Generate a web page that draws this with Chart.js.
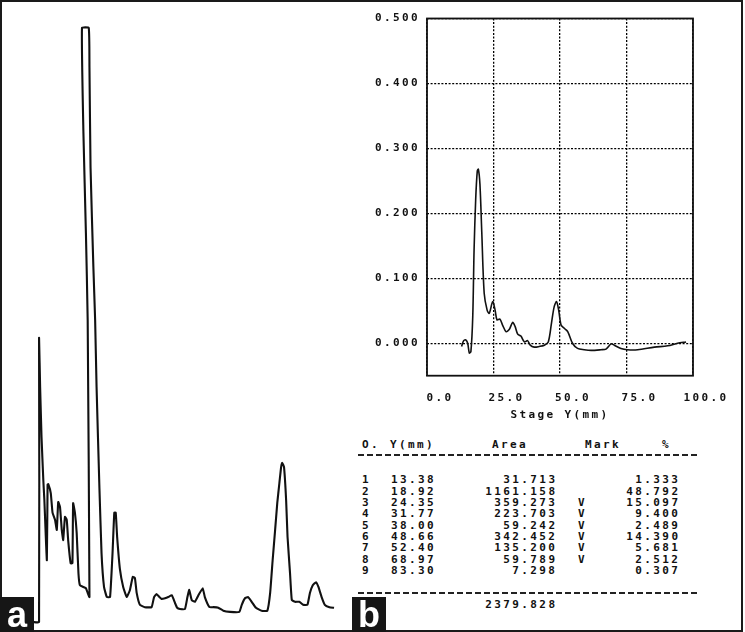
<!DOCTYPE html>
<html><head><meta charset="utf-8">
<script src="https://cdn.jsdelivr.net/npm/chart.js@4/dist/chart.umd.min.js"></script>
<style>
html,body{margin:0;padding:0;background:#fff}
#wrap{position:relative;width:745px;height:632px;overflow:hidden;background:#fff}
#frame{position:absolute;left:0;top:0;width:739px;height:628px;border:2px solid #1a1a1a;z-index:5;pointer-events:none}
canvas{position:absolute}
#ca{left:0;top:0}
#cb{left:355px;top:0}
.lbl{position:absolute;top:597px;width:34px;height:35px;background:#161616;color:#fff;font:bold 36px "Liberation Sans",Arial,sans-serif;line-height:35px;text-align:center;z-index:6}
.t{position:absolute;font:bold 11px "DejaVu Sans Mono",monospace;letter-spacing:2.4px;white-space:pre;color:#111;line-height:12px}
.dash{position:absolute;height:1.5px;background:repeating-linear-gradient(90deg,#222 0 6px,transparent 6px 9px)}
</style>
</head><body>
<div id="wrap">
  <canvas id="ca" width="355" height="632"></canvas>
  <canvas id="cb" width="390" height="432"></canvas>
  <div id="table"></div>
  <div class="lbl" style="left:0">a</div>
  <div class="lbl" style="left:352px">b</div>
  <div id="frame"></div>
</div>
<script>
// ---------- Panel a: densitometric scan (arbitrary units) ----------
const traceAX = [9.3,11.0,11.0,11.3,11.7,12.2,12.5,13.2,13.4,13.6,14.3,14.8,15.5,16.0,16.4,16.9,17.4,17.8,18.3,18.8,19.2,19.9,20.4,20.6,21.1,21.6,22.1,22.5,23.5,24.2,24.7,25.2,
  24.7,24.2,23.5,23.1,25.0,25.2,25.5,26.3,26.8,27.2,28.0,28.6,29.3,30.1,31.0,31.7,32.2,32.6,33.0,33.8,34.7,35.7,36.6,37.4,38.0,38.5,39.4,40.8,42.7,43.4,44.1,44.9,45.5,46.5,47.4,48.4,49.3,49.9,50.7,52.1,52.8,53.3,54.0,54.9,55.9,57.1,57.7,59.0,60.1,61.5,62.9,64.8,67.4,68.1,69.0,69.9,70.9,72.1,73.7,75.3,76.1,76.8,77.5,78.1,78.7,79.2,79.5,80.0,80.6,81.0,81.7,82.2,83.1,84.3,85.4,86.6,87.3,88.1,89.0,89.7,90.6,91.5,92.8,94.1];
const traceAY = [0,0,47.8,39.6,31.1,23.9,20.5,10.4,23.1,23.2,21.7,18.4,17.2,15.5,20.2,19.4,15.5,13.8,17.7,17.2,13.8,9.9,9.9,20.0,18.4,15.0,8.2,6.2,5.9,5.7,4.9,4.2,
  50.8,65.5,82.3,100,100,93.4,76.6,59.8,50.8,39.6,22.7,11.6,5.9,4.2,4.2,11.6,18.4,18.4,14.3,8.8,5.9,4.2,5.4,7.6,7.4,4.9,2.9,2.5,2.5,4.2,4.7,4.2,3.9,4.0,4.2,4.5,3.2,2.4,2.2,2.2,4.2,5.4,3.7,3.4,4.5,5.7,4.2,2.5,2.5,2.4,1.9,1.7,1.7,2.9,4.0,4.2,3.4,2.4,1.9,1.9,4.9,10.4,15.5,20.0,23.4,26.1,26.8,26.1,20.5,14.3,8.2,3.7,3.4,3.4,2.9,2.9,4.9,6.2,6.7,5.9,4.2,2.9,2.5,2.4];

// ---------- Panel b: absorbance vs Stage Y (mm) ----------
const traceBX = [13.0,13.8,14.6,15.3,15.9,16.5,17.2,17.7,18.3,18.9,19.3,19.9,20.6,21.5,22.6,23.4,24.7,25.6,26.3,27.4,28.4,29.7,30.9,32.2,33.1,34.1,35.3,36.6,37.8,38.8,40.3,42.2,44.1,45.6,46.8,47.8,48.7,49.5,50.4,51.6,52.9,54.7,56.6,59.1,61.7,65.4,67.3,69.2,70.4,72.9,75.4,79.2,85.5,90.5,94.2,97.4];
const traceBY = [-0.005,0.004,0.005,0.0,-0.015,-0.013,0.041,0.144,0.221,0.265,0.268,0.245,0.170,0.077,0.051,0.046,0.064,0.051,0.036,0.037,0.028,0.018,0.021,0.032,0.026,0.014,0.011,0.002,0.004,-0.003,-0.006,-0.005,-0.003,0.002,0.031,0.056,0.064,0.051,0.028,0.023,0.018,0.0,-0.008,-0.010,-0.011,-0.010,-0.009,-0.001,-0.003,-0.008,-0.010,-0.010,-0.006,-0.004,0.0,0.002];
const xTickVals = [0, 25, 50, 75, 100];
const yTickVals = [0, 0.1, 0.2, 0.3, 0.4, 0.5];

// ---------- Peak table ----------
const peakNo   = [1,2,3,4,5,6,7,8,9];
const peakY    = [13.38,18.92,24.35,31.77,38.00,48.66,52.40,68.97,83.30];
const peakArea = [31.713,1161.158,359.273,223.703,59.242,342.452,135.200,59.789,7.298];
const peakMark = ['','','V','V','V','V','V','V',''];
const peakPct  = [1.333,48.792,15.097,9.400,2.489,14.390,5.681,2.512,0.307];
const areaTotal = 2379.828;

// Panel a chart
new Chart(document.getElementById('ca'), {
  type: 'scatter',
  data: { datasets: [{
    data: traceAX.map((x, i) => ({ x, y: traceAY[i] })),
    showLine: true, borderColor: '#111', borderWidth: 2.1, pointRadius: 0, tension: 0.12, fill: false
  }]},
  options: {
    responsive: false, animation: false, devicePixelRatio: 1,
    layout: { padding: 0 },
    plugins: { legend: { display: false }, tooltip: { enabled: false } },
    scales: {
      x: { type: 'linear', min: 0, max: 100, display: false },
      y: { type: 'linear', min: -1.68, max: 104.7, display: false }
    }
  }
});

// Panel b chart
const monoFont = { family: '"DejaVu Sans Mono", monospace', size: 11, weight: 'bold' };
const spacingPlugin = {
  id: 'spacing',
  beforeLayout(c) { c.ctx.letterSpacing = '2.4px'; },
  beforeDraw(c) { c.ctx.letterSpacing = '2.4px'; }
};
const framePlugin = {
  id: 'frame',
  afterDatasetsDraw(c) {
    const { ctx, chartArea: a } = c;
    ctx.save();
    ctx.strokeStyle = '#111';
    ctx.lineWidth = 1.8;
    ctx.strokeRect(a.left, a.top, a.right - a.left, a.bottom - a.top);
    ctx.restore();
  }
};
new Chart(document.getElementById('cb'), {
  type: 'scatter',
  data: { datasets: [{
    data: traceBX.map((x, i) => ({ x, y: traceBY[i] })),
    showLine: true, borderColor: '#111', borderWidth: 1.6, pointRadius: 0, tension: 0.3, fill: false
  }]},
  options: {
    responsive: false, animation: false, devicePixelRatio: 1,
    layout: { padding: { top: 18.5, right: 52, left: 0, bottom: 0 } },
    plugins: { legend: { display: false }, tooltip: { enabled: false } },
    scales: {
      x: {
        type: 'linear', min: 0, max: 100,
        afterBuildTicks: s => { s.ticks = xTickVals.map(v => ({ value: v })); },
        afterFit: s => { s.height = 56.3; },
        ticks: { callback: v => Number(v).toFixed(1), font: monoFont, color: '#111', padding: 16, labelOffset: 13, maxRotation: 0, autoSkip: false },
        grid: { color: '#000', lineWidth: 1.3, drawTicks: false },
        border: { display: false, dash: [2, 1.6] },
        title: { display: true, text: 'Stage Y(mm)', font: monoFont, color: '#111', padding: { top: 0, bottom: 10 } }
      },
      y: {
        type: 'linear', min: -0.05, max: 0.5,
        afterBuildTicks: s => { s.ticks = yTickVals.map(v => ({ value: v })); },
        afterFit: s => { s.width = 72; },
        ticks: { callback: v => Number(v).toFixed(3), font: monoFont, color: '#111', padding: 7, autoSkip: false },
        grid: { color: '#000', lineWidth: 1.3, drawTicks: false },
        border: { display: false, dash: [2, 1.6] }
      }
    }
  },
  plugins: [spacingPlugin, framePlugin]
});

// Table (text)
const table = document.getElementById('table');
function addText(txt, opts) {
  const d = document.createElement('div');
  d.className = 't';
  d.textContent = txt;
  if (opts.left !== undefined) d.style.left = opts.left + 'px';
  if (opts.right !== undefined) d.style.right = (745 - opts.right - 2.4) + 'px';
  d.style.top = (opts.cy - 5.8) + 'px';
  table.appendChild(d);
}
function addDash(y) {
  const d = document.createElement('div');
  d.className = 'dash';
  d.style.left = '358px'; d.style.width = '339px'; d.style.top = (y - 0.75) + 'px';
  table.appendChild(d);
}
addText('O.', { left: 362, cy: 445 });
addText('Y(mm)', { left: 390, cy: 445 });
addText('Area', { left: 492, cy: 445 });
addText('Mark', { left: 585, cy: 445 });
addText('%', { left: 662, cy: 445 });
addDash(455);
peakNo.forEach((n, i) => {
  const cy = 480 + i * 11.35;
  addText(String(n), { left: 362, cy });
  addText(peakY[i].toFixed(2), { left: 391, cy });
  addText(peakArea[i].toFixed(3), { right: 555, cy });
  if (peakMark[i]) addText(peakMark[i], { left: 578, cy });
  addText(peakPct[i].toFixed(3), { right: 678, cy });
});
addDash(593);
addText(areaTotal.toFixed(3), { right: 555, cy: 605 });
</script>
</body></html>
